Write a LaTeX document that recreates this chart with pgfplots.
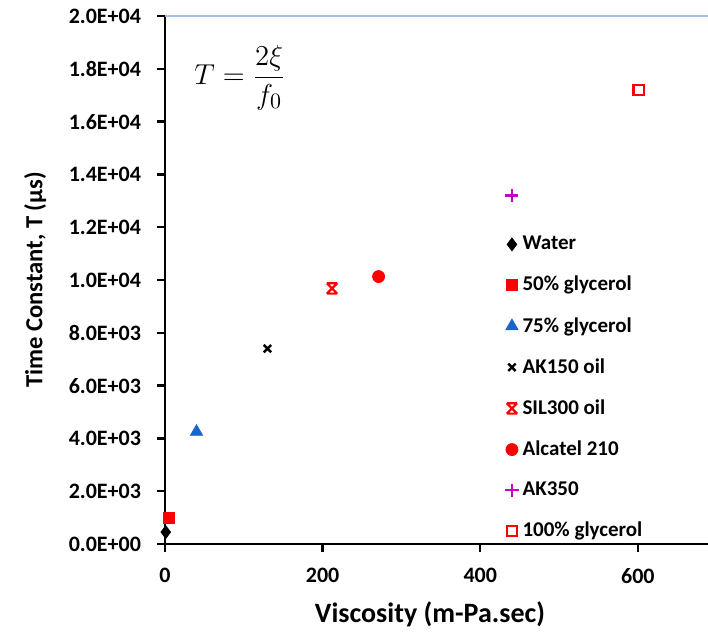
\documentclass[border=0pt]{standalone}
\usepackage{fontspec}
\setmainfont{Carlito}
\usepackage{pgfplots}
\pgfplotsset{compat=1.18}
\definecolor{topblue}{RGB}{160,192,228}
\definecolor{triblue}{RGB}{25,100,205}
\definecolor{mag}{RGB}{200,0,200}
\pgfdeclareplotmark{xbar}{%
  \pgfpathmoveto{\pgfqpoint{-\pgfplotmarksize}{-\pgfplotmarksize}}%
  \pgfpathlineto{\pgfqpoint{\pgfplotmarksize}{\pgfplotmarksize}}%
  \pgfpathmoveto{\pgfqpoint{-\pgfplotmarksize}{\pgfplotmarksize}}%
  \pgfpathlineto{\pgfqpoint{\pgfplotmarksize}{-\pgfplotmarksize}}%
  \pgfpathmoveto{\pgfqpoint{-\pgfplotmarksize}{\pgfplotmarksize}}%
  \pgfpathlineto{\pgfqpoint{\pgfplotmarksize}{\pgfplotmarksize}}%
  \pgfpathmoveto{\pgfqpoint{-\pgfplotmarksize}{-\pgfplotmarksize}}%
  \pgfpathlineto{\pgfqpoint{\pgfplotmarksize}{-\pgfplotmarksize}}%
  \pgfusepathqstroke
}
\begin{document}
\begin{tikzpicture}
\begin{axis}[
  scale only axis,
  width=271.5pt, height=264pt,
  xmin=0, xmax=689, ymin=0, ymax=20000,
  axis x line*=bottom, axis y line*=left,
  axis line style={line width=1.2pt, black},
  xtick={0,200,400,600},
  ytick={0,2000,4000,6000,8000,10000,12000,14000,16000,18000,20000},
  yticklabels={0.0E+00,2.0E+03,4.0E+03,6.0E+03,8.0E+03,1.0E+04,1.2E+04,1.4E+04,1.6E+04,1.8E+04,2.0E+04},
  scaled y ticks=false,
  tick align=outside, major tick length=4pt,
  tick style={line width=1.2pt, black},
  ticklabel style={font=\bfseries\fontsize{11}{13}\selectfont},
  /pgf/number format/assume math mode=true,
  xticklabel style={yshift=-4.5pt},
  yticklabel style={xshift=-4.5pt},
  xlabel={Viscosity (m-Pa.sec)},
  ylabel={Time Constant, T (µs)},
  xlabel style={font=\bfseries\fontsize{14}{16}\selectfont, at={(axis description cs:0.488,-0.133)}, anchor=center},
  ylabel style={font=\bfseries\fontsize{12.3}{14}\selectfont, at={(axis description cs:-0.239,0.50)}, anchor=center},
  legend style={draw=none, fill=none, at={(rel axis cs:0.615,0.599)}, anchor=north west,
    font=\bfseries\fontsize{10.5}{12}\selectfont, row sep=7.7pt, cells={anchor=west}},
  clip=false,
]
\addplot[only marks, mark=diamond*, mark size=3.2pt, black] coordinates {(1,450)};
\addlegendentry{Water}
\addplot[only marks, mark=square*, mark size=2.8pt, red] coordinates {(5,1000)};
\addlegendentry{50\% glycerol}
\addplot[only marks, mark=triangle*, mark size=3.5pt, triblue] coordinates {(40,4250)};
\addlegendentry{75\% glycerol}
\addplot[only marks, mark=x, mark size=2.6pt, line width=1.2pt, black] coordinates {(130,7400)};
\addlegendentry{AK150 oil}
\addplot[only marks, mark=xbar, mark size=2.6pt, line width=1.1pt, red] coordinates {(212,9680)};
\addlegendentry{SIL300 oil}
\addplot[only marks, mark=*, mark size=3pt, red] coordinates {(271,10130)};
\addlegendentry{Alcatel 210}
\addplot[only marks, mark=+, mark size=3.3pt, line width=1.2pt, mag] coordinates {(440,13200)};
\addlegendentry{AK350}
\addplot[only marks, mark=square, mark size=2.6pt, line width=1.1pt, red] coordinates {(601,17190)};
\addlegendentry{100\% glycerol}
\draw[topblue, line width=1.2pt] (rel axis cs:0,1) -- (rel axis cs:1,1);
\node at (rel axis cs:0.138,0.883) {\fontsize{15}{18}\selectfont $\displaystyle T=\frac{2\xi}{f_0}$};
\coordinate (bl) at (rel axis cs:0,0);
\coordinate (tr) at (rel axis cs:1,1);
\end{axis}
\pgfresetboundingbox
\path ([xshift=-82.5pt,yshift=-45.5pt]bl) rectangle ([yshift=8pt]tr);
\end{tikzpicture}
\end{document}
